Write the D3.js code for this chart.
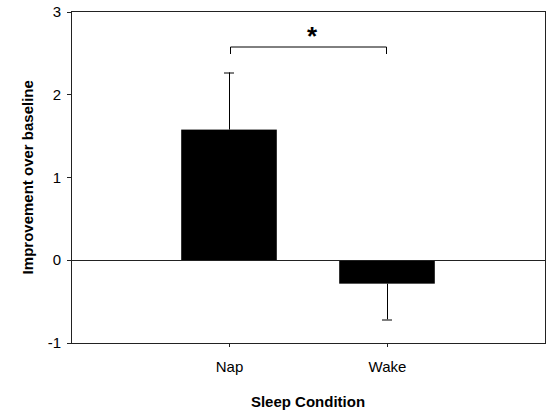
<!DOCTYPE html>
<html>
<head>
<meta charset="utf-8">
<script src="https://cdn.jsdelivr.net/npm/d3@7"></script>
<style>
  body { margin: 0; background: #fff; }
  svg text { font-family: "Liberation Sans", Arial, sans-serif; fill: #000; }
</style>
</head>
<body>
<div id="chart"></div>
<script>
// Chart data
const conditions = ["Nap", "Wake"];
const means = [1.575, -0.284];
const errors = [0.69, 0.43];
const yTicks = [-1, 0, 1, 2, 3];
const sigPair = ["Nap", "Wake"];
const sigLevel = 2.58;

// Dimensions
const margin = { top: 11.5, right: 2, bottom: 75, left: 71 },
      width = 547 - margin.left - margin.right,
      height = 418 - margin.top - margin.bottom;

const svg = d3.select("#chart").append("svg")
    .attr("width", 547)
    .attr("height", 418)
  .append("g")
    .attr("transform", `translate(${margin.left},${margin.top})`);

// Scales
const x = d3.scalePoint().domain(conditions).range([0, width]).padding(1);
const y = d3.scaleLinear().domain([-1, 3]).range([height, 0]);
const barWidth = x.step() * 0.605;

// Frame
svg.append("rect")
    .attr("x", 0).attr("y", 0)
    .attr("width", width).attr("height", height)
    .attr("fill", "none")
    .attr("stroke", "#222")
    .attr("shape-rendering", "crispEdges");

// Y axis (plain hyphen for negatives, as in the original)
const yAxis = svg.append("g")
    .call(d3.axisLeft(y).tickValues(yTicks).tickSize(4).tickPadding(6).tickFormat(d => String(d)));
yAxis.select(".domain").attr("stroke", "#222").attr("shape-rendering", "crispEdges");
yAxis.selectAll(".tick line").attr("stroke", "#222").attr("shape-rendering", "crispEdges");
yAxis.selectAll("text").style("font-size", "15px").style("font-family", "Liberation Sans, Arial, sans-serif");

// X axis
const xAxis = svg.append("g")
    .attr("transform", `translate(0,${height})`)
    .call(d3.axisBottom(x).tickSize(4).tickPadding(14));
xAxis.select(".domain").remove();
xAxis.selectAll(".tick line").attr("stroke", "#222").attr("shape-rendering", "crispEdges");
xAxis.selectAll("text").style("font-size", "15px").style("font-family", "Liberation Sans, Arial, sans-serif");

// Bars
svg.selectAll(".bar")
    .data(conditions)
  .enter().append("rect")
    .attr("class", "bar")
    .attr("x", d => x(d) - barWidth / 2)
    .attr("width", barWidth)
    .attr("y", (d, i) => y(Math.max(0, means[i])))
    .attr("height", (d, i) => Math.abs(y(means[i]) - y(0)))
    .attr("fill", "#000");

// Zero line
svg.append("line")
    .attr("x1", 0).attr("x2", width)
    .attr("y1", y(0)).attr("y2", y(0))
    .attr("stroke", "#222")
    .attr("shape-rendering", "crispEdges");

// Error bars (one-sided, away from zero)
const errEnd = (d, i) => means[i] >= 0 ? means[i] + errors[i] : means[i] - errors[i];
svg.selectAll(".err")
    .data(conditions)
  .enter().append("line")
    .attr("x1", d => Math.round(x(d)) + 0.5)
    .attr("x2", d => Math.round(x(d)) + 0.5)
    .attr("y1", (d, i) => y(means[i]))
    .attr("y2", (d, i) => y(errEnd(d, i)))
    .attr("stroke", "#000");
svg.selectAll(".cap")
    .data(conditions)
  .enter().append("line")
    .attr("x1", d => x(d) - 5)
    .attr("x2", d => x(d) + 5)
    .attr("y1", (d, i) => Math.round(y(errEnd(d, i))) + 0.5)
    .attr("y2", (d, i) => Math.round(y(errEnd(d, i))) + 0.5)
    .attr("stroke", "#000");

// Significance bracket
const by = Math.round(y(sigLevel)) + 0.5;
svg.append("path")
    .attr("d", `M${x(sigPair[0]) + 1.5},${by + 7}V${by}H${x(sigPair[1]) - 0.5}V${by + 7}`)
    .attr("fill", "none")
    .attr("stroke", "#000");
svg.append("text")
    .attr("x", (x(sigPair[0]) + x(sigPair[1])) / 2 + 4)
    .attr("y", by - 2)
    .style("text-anchor", "middle")
    .style("font-size", "26px")
    .style("font-weight", "bold")
    .text("*");

// Axis titles
svg.append("text")
    .attr("x", width / 2)
    .attr("y", height + 64)
    .style("text-anchor", "middle")
    .style("font-size", "15px")
    .style("font-weight", "bold")
    .text("Sleep Condition");

svg.append("text")
    .attr("transform", "rotate(-90)")
    .attr("x", -height / 2)
    .attr("y", -38)
    .style("text-anchor", "middle")
    .style("font-size", "15px")
    .style("font-weight", "bold")
    .text("Improvement over baseline");
</script>
</body>
</html>
